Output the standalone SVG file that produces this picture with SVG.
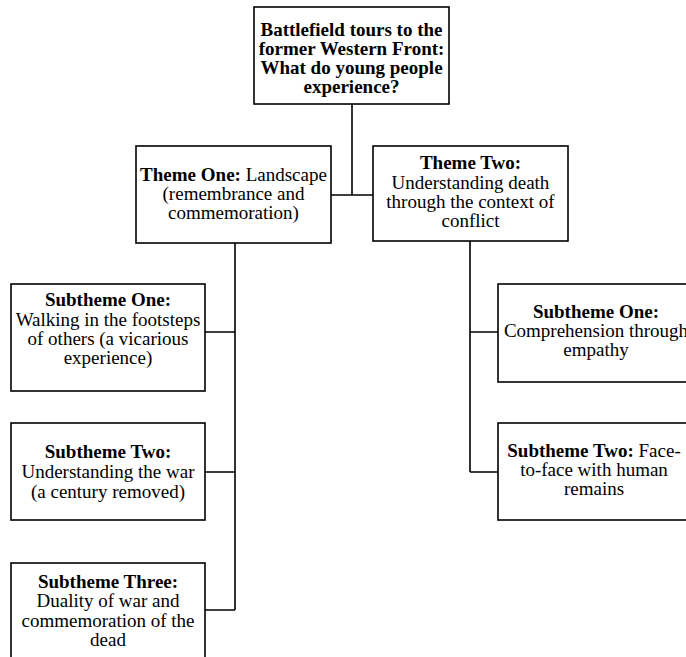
<svg xmlns="http://www.w3.org/2000/svg" width="686" height="657" viewBox="0 0 686 657">
<style>
.box{fill:#fff;stroke:#000;stroke-width:1.6}
.ln{fill:none;stroke:#000;stroke-width:1.6}
text{font-family:"Liberation Serif","Times New Roman",serif;font-size:19px;fill:#000;text-anchor:middle}
.b{font-weight:bold}
</style>
<rect width="686" height="657" fill="#fff"/>
<g id="connectors">
<path class="ln" d="M352,104 V195 M331,195 H373"/>
<path class="ln" d="M235,243 V610 M205,332 H235 M205,472 H235 M205,610 H235"/>
<path class="ln" d="M470,241 V472 M470,332 H498 M470,472 H498"/>
</g>
<g id="root">
<rect class="box" x="254" y="7" width="195" height="97"/>
<text class="b" x="351.5" y="36">Battlefield tours to the</text>
<text class="b" x="351.5" y="55">former Western Front:</text>
<text class="b" x="351.5" y="74">What do young people</text>
<text class="b" x="351.5" y="93">experience?</text>
</g>
<g id="theme1">
<rect class="box" x="136" y="146" width="195" height="97"/>
<text x="233.5" y="181"><tspan class="b">Theme One:</tspan> Landscape</text>
<text x="233.5" y="200">(remembrance and</text>
<text x="233.5" y="219">commemoration)</text>
</g>
<g id="theme2">
<rect class="box" x="373" y="146" width="195" height="95"/>
<text class="b" x="470.5" y="169">Theme Two:</text>
<text x="470.5" y="189">Understanding death</text>
<text x="470.5" y="208">through the context of</text>
<text x="470.5" y="227">conflict</text>
</g>
<g id="t1s1">
<rect class="box" x="11" y="284" width="194" height="107"/>
<text class="b" x="108" y="306">Subtheme One:</text>
<text x="108" y="326">Walking in the footsteps</text>
<text x="108" y="345">of others (a vicarious</text>
<text x="108" y="364">experience)</text>
</g>
<g id="t1s2">
<rect class="box" x="11" y="423" width="194" height="97"/>
<text class="b" x="108" y="458">Subtheme Two:</text>
<text x="108" y="478">Understanding the war</text>
<text x="108" y="498">(a century removed)</text>
</g>
<g id="t1s3">
<rect class="box" x="11" y="563" width="194" height="110"/>
<text class="b" x="108" y="588">Subtheme Three:</text>
<text x="108" y="607">Duality of war and</text>
<text x="108" y="627">commemoration of the</text>
<text x="108" y="646">dead</text>
</g>
<g id="t2s1">
<rect class="box" x="498" y="284" width="196" height="98"/>
<text class="b" x="596" y="318">Subtheme One:</text>
<text x="596" y="337">Comprehension through</text>
<text x="596" y="356">empathy</text>
</g>
<g id="t2s2">
<rect class="box" x="498" y="423" width="196" height="97"/>
<text x="594" y="457"><tspan class="b">Subtheme Two:</tspan> Face-</text>
<text x="594" y="476">to-face with human</text>
<text x="594" y="495">remains</text>
</g>
</svg>
